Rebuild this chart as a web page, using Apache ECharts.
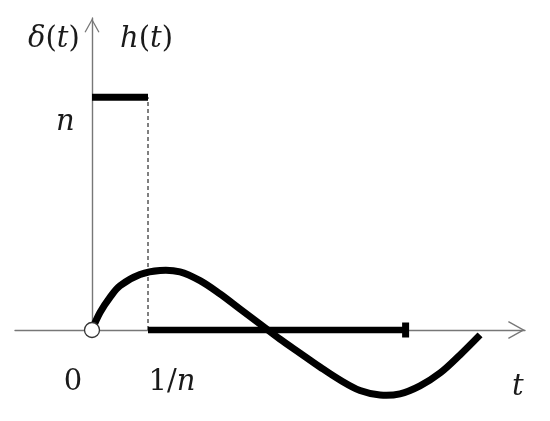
<!DOCTYPE html>
<html>
<head>
<meta charset="utf-8">
<script src="https://cdn.jsdelivr.net/npm/echarts@6/dist/echarts.min.js"></script>
<style>html,body{margin:0;padding:0;background:#fff;}#c{width:550px;height:421px;}</style>
</head>
<body>
<div id="c"></div>
<script>
// t in units of 1/n, amplitude in units of n
var tickValues = [0, 1];
var tickLabels = ['0', '1/n'];
var pulseT = [0, 1];          // h(t) = n on [0, 1/n]
var pulseLevel = 1;
var tailT = [1, 5.6];         // output zero segment
var curveT = [0, 0.143, 0.321, 0.5, 0.857, 1.214, 1.571, 1.929, 2.286, 2.643, 3.0, 3.357, 3.714, 4.071, 4.429, 4.786, 5.143, 5.5, 5.857, 6.214, 6.571, 6.929];
var curveY = [0, 0.075, 0.14, 0.19, 0.238, 0.256, 0.250, 0.212, 0.155, 0.090, 0.026, -0.039, -0.099, -0.159, -0.215, -0.260, -0.279, -0.274, -0.240, -0.185, -0.107, -0.021];

var chart = echarts.init(document.getElementById('c'), null, {renderer: 'canvas'});
var FONT = '"DejaVu Serif", serif';
var chevron = 'path://M0,18 L10,0 L20,18 L18.5,18.7 L10,3.2 L1.5,18.7 Z';
var axisCol = '#777';
var txtCol = '#1a1a1a';

var curveData = curveT.map(function (t, i) { return [t, curveY[i]]; });

chart.setOption({
  animation: false,
  grid: {left: 15, right: 25, top: 18, bottom: 91, containLabel: false},
  xAxis: {
    type: 'value', min: -1.375, max: 7.732,
    splitLine: {show: false}, axisTick: {show: false},
    axisLine: {onZero: true, lineStyle: {color: axisCol, width: 1.4},
      symbol: ['none', chevron], symbolSize: [18, 17], symbolOffset: [0, -8.5]},
    axisLabel: {
      customValues: tickValues,
      margin: 38,
      formatter: function (v) {
        var i = tickValues.indexOf(v);
        var s = tickLabels[i];
        if (s === '0') return '{z|0}';
        var parts = s.split('/');
        return '{a|' + parts[0] + '/}{i|' + parts[1] + '}';
      },
      rich: {
        z: {fontFamily: FONT, fontSize: 29, color: txtCol, padding: [0, 38, 0, 0]},
        a: {fontFamily: FONT, fontSize: 29, color: txtCol, padding: [0, 0, 0, 48]},
        i: {fontFamily: FONT, fontSize: 29, fontStyle: 'italic', color: txtCol}
      }
    }
  },
  yAxis: {
    type: 'value', min: 0, max: 1.34,
    splitLine: {show: false}, axisTick: {show: false}, axisLabel: {show: false},
    axisLine: {onZero: true, lineStyle: {color: axisCol, width: 1.4},
      symbol: ['none', chevron], symbolSize: [15, 15], symbolOffset: [0, -7.5]}
  },
  series: [
    {
      type: 'line', clip: false, symbol: 'none', z: 3,
      data: [[pulseT[0], pulseLevel], [pulseT[1], pulseLevel]],
      lineStyle: {color: '#000', width: 7, cap: 'butt'}
    },
    {
      type: 'line', clip: false, symbol: 'none', z: 2,
      data: [[pulseT[1], 0], [pulseT[1], pulseLevel]],
      lineStyle: {color: '#000', width: 1, type: [4, 3]}
    },
    {
      type: 'line', clip: false, z: 3,
      data: [
        {value: [tailT[0], 0], symbol: 'none'},
        {value: [tailT[1], 0], symbol: 'rect', symbolSize: [7, 15]}
      ],
      showSymbol: true,
      itemStyle: {color: '#000'},
      lineStyle: {color: '#000', width: 6.5, cap: 'butt'}
    },
    {
      type: 'custom', coordinateSystem: 'cartesian2d', clip: false, z: 4,
      data: curveData,
      renderItem: function (params, api) {
        if (params.dataIndex !== 0) return null;
        var pts = curveData.map(function (d) { return api.coord(d); });
        return {
          type: 'polyline',
          shape: {points: pts, smooth: 0.35},
          style: {stroke: '#000', lineWidth: 7, fill: null, lineCap: 'butt', lineJoin: 'round'}
        };
      }
    },
    {
      type: 'scatter', clip: false, z: 6,
      data: [[0, 0]], symbol: 'circle', symbolSize: 15,
      itemStyle: {color: '#fff', borderColor: '#333', borderWidth: 1.3, opacity: 1}
    }
  ],
  graphic: [
    {type: 'text', left: 28, top: 25, style: {
      text: '{i|δ}{u|(}{i|t}{u|)}', rich: {
        u: {fontFamily: FONT, fontSize: 29, fill: txtCol},
        i: {fontFamily: FONT, fontSize: 29, fontStyle: 'italic', fill: txtCol}
      }}},
    {type: 'text', left: 120, top: 25, style: {
      text: '{i|h}{u|(}{i|t}{u|)}', rich: {
        u: {fontFamily: FONT, fontSize: 29, fill: txtCol},
        i: {fontFamily: FONT, fontSize: 29, fontStyle: 'italic', fill: txtCol}
      }}},
    {type: 'text', left: 56, top: 108, style: {text: 'n', font: 'italic 29px "DejaVu Serif"', fill: txtCol}},
    {type: 'text', left: 512, top: 373, style: {text: 't', font: 'italic 29px "DejaVu Serif"', fill: txtCol}}
  ]
});
</script>
</body>
</html>
